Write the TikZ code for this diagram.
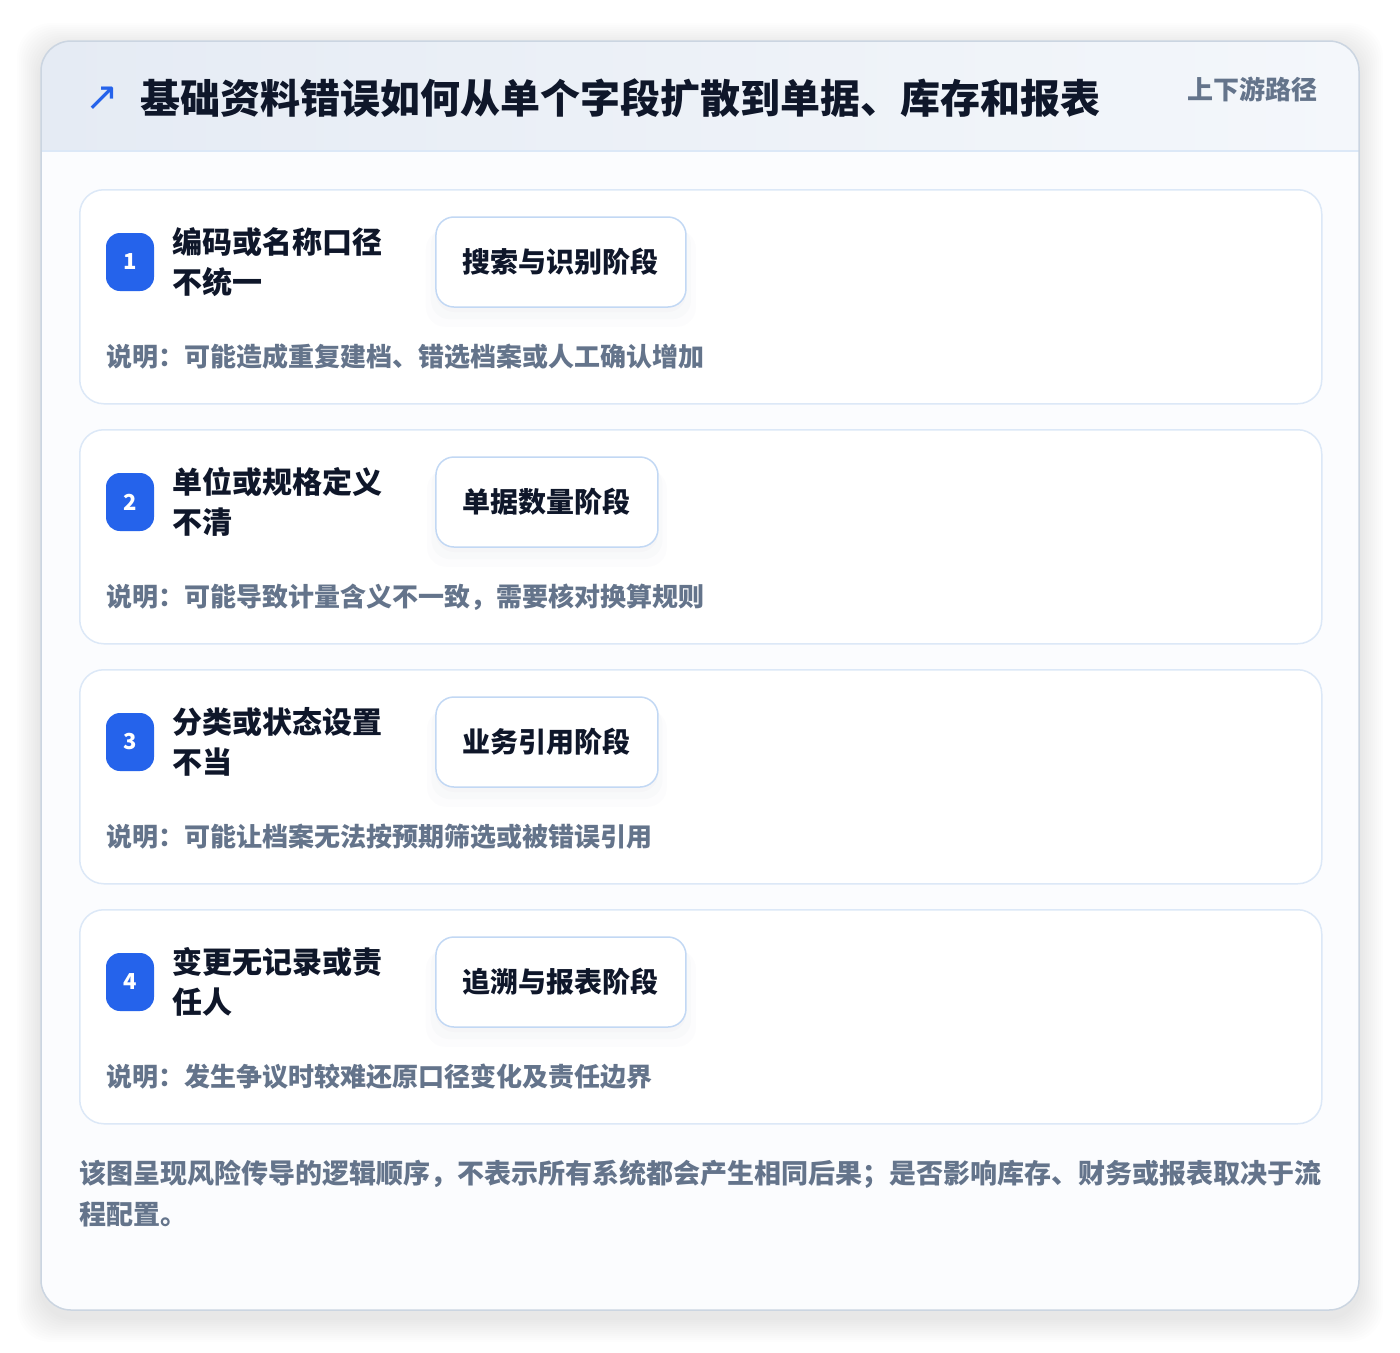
\documentclass[tikz,border=0pt]{standalone}
\usepackage{fontspec}
\setmainfont{Noto Sans CJK SC}
\newfontfamily\symfont{DejaVu Sans}
\usepackage{xcolor}
\usepackage{tikz}
\usetikzlibrary{positioning, shadows}

\definecolor{inkdark}{HTML}{0F172A}
\definecolor{inkgray}{HTML}{64748B}
\definecolor{badgeblue}{HTML}{2563EB}
\definecolor{cardline}{HTML}{DCE8F7}
\definecolor{stageline}{HTML}{C2D8F4}
\definecolor{outerline}{HTML}{CBD5E1}
\definecolor{headleft}{HTML}{E5EBF4}
\definecolor{headright}{HTML}{F4F7FB}
\definecolor{bodyfill}{HTML}{FBFCFE}

\tikzset{
  card/.style = {draw = cardline, line width = 1.5pt, fill = white, rounded corners = 24pt,
    minimum width = 1242pt, minimum height = 214pt, anchor = north west, inner sep = 0pt},
  badge/.style = {fill = badgeblue, text = white, rounded corners = 14pt, minimum width = 48pt,
    minimum height = 58pt, inner sep = 0pt, font = \fontsize{22}{22}\selectfont\bfseries},
  itemtitle/.style = {text = inkdark, align = left, inner sep = 0pt, anchor = west,
    font = \fontsize{30}{40}\selectfont\bfseries},
  stagebox/.style = {draw = stageline, line width = 1.5pt, fill = white, rounded corners = 18pt,
    minimum height = 90pt, inner xsep = 27pt, anchor = west, text = inkdark,
    font = \fontsize{28}{28}\selectfont\bfseries,
    drop shadow = {opacity = 0.025, shadow xshift = 0pt, shadow yshift = -5pt, fill = inkgray},
    drop shadow = {opacity = 0.02, shadow xshift = 0pt, shadow yshift = -10pt, shadow scale = 1.04, fill = inkgray},
    drop shadow = {opacity = 0.015, shadow xshift = 0pt, shadow yshift = -15pt, shadow scale = 1.08, fill = inkgray}},
  note/.style = {text = inkgray, inner sep = 0pt, anchor = west,
    font = \fontsize{26}{26}\selectfont\bfseries}
}

\begin{document}
\begin{tikzpicture} [x = 1pt, y = -1pt]
			% Page size and white backdrop
			\useasboundingbox [fill = white] (0,0) rectangle (1400,1352);
			% Soft shadow of the outer panel
			\foreach \s in {2,4,...,24}
				\fill [black, opacity = 0.006, rounded corners = 34pt] (41-\s,47-\s) rectangle (1359+\s,1318+\s);

			% Outer panel with header band
			\fill [bodyfill, rounded corners = 30pt] (41,41) rectangle (1359,1310);
			\begin{scope}
				\clip [rounded corners = 30pt] (41,41) rectangle (1359,1310);
				\shade [left color = headleft, right color = headright] (41,41) rectangle (1359,151);
			\end{scope}
			\draw [cardline, line width = 1.5pt] (41,151) -- (1359,151);
			\draw [outerline, line width = 1.5pt, rounded corners = 30pt] (41,41) rectangle (1359,1310);

			% Header texts
			\node (arrow) [text = badgeblue, inner sep = 0pt, font = \symfont\fontsize{40}{40}\selectfont] at (102,99) {↗};
			\node (title) [text = inkdark, inner sep = 0pt, anchor = west, font = \fontsize{40}{40}\selectfont\bfseries]
			at (140,98) {基础资料错误如何从单个字段扩散到单据、库存和报表};
			\node (path) [text = inkgray, inner sep = 0pt, anchor = east, font = \fontsize{26}{26}\selectfont\bfseries]
			at (1318,89) {上下游路径};

			% Card 1
			\node (card1) [card] at (79,189) {};
			\node (b1) [badge] at (130,262) {1};
			\node (t1) [itemtitle, right = 18pt of b1] {编码或名称口径\\不统一};
			\node (s1) [stagebox, right = 281pt of b1] {搜索与识别阶段};
			\node (n1) [note] at (106,357) {说明：可能造成重复建档、错选档案或人工确认增加};

			% Card 2
			\node (card2) [card] at (79,429) {};
			\node (b2) [badge] at (130,502) {2};
			\node (t2) [itemtitle, right = 18pt of b2] {单位或规格定义\\不清};
			\node (s2) [stagebox, right = 281pt of b2] {单据数量阶段};
			\node (n2) [note] at (106,597) {说明：可能导致计量含义不一致，需要核对换算规则};

			% Card 3
			\node (card3) [card] at (79,669) {};
			\node (b3) [badge] at (130,742) {3};
			\node (t3) [itemtitle, right = 18pt of b3] {分类或状态设置\\不当};
			\node (s3) [stagebox, right = 281pt of b3] {业务引用阶段};
			\node (n3) [note] at (106,837) {说明：可能让档案无法按预期筛选或被错误引用};

			% Card 4
			\node (card4) [card] at (79,909) {};
			\node (b4) [badge] at (130,982) {4};
			\node (t4) [itemtitle, right = 18pt of b4] {变更无记录或责\\任人};
			\node (s4) [stagebox, right = 281pt of b4] {追溯与报表阶段};
			\node (n4) [note] at (106,1077) {说明：发生争议时较难还原口径变化及责任边界};

			% Footer remark
			\node (remark) [text = inkgray, inner sep = 0pt, anchor = north west, align = left,
			font = \fontsize{27}{41}\selectfont\bfseries] at (79,1160)
			{该图呈现风险传导的逻辑顺序，不表示所有系统都会产生相同后果；是否影响库存、财务或报表取决于流\\程配置。};
		\end{tikzpicture}
\end{document}
